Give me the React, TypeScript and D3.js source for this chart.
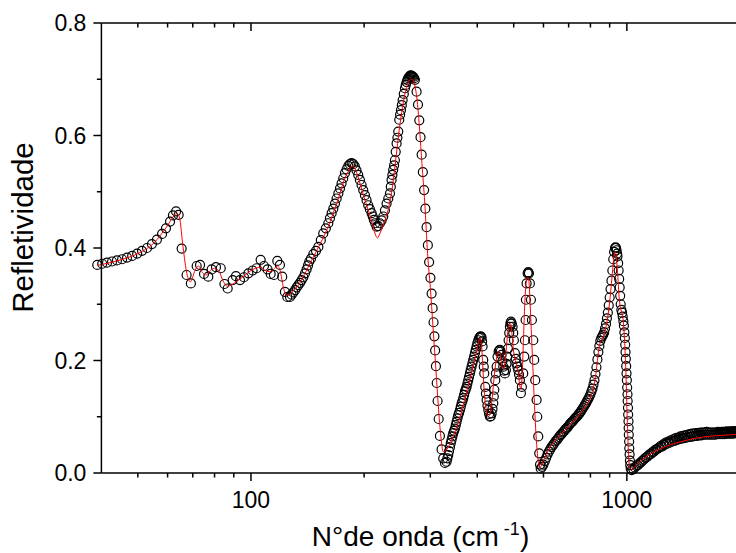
import React from 'react';
import * as d3 from 'd3';

const W = 736;
const H = 553;
const plot = { left: 101.4, right: 740, top: 23, bottom: 473 };

const xDomain: [number, number] = [40, 2000];
const yDomain: [number, number] = [0, 0.8];
const yMajorTicks = [0, 0.2, 0.4, 0.6, 0.8];
const yMinorTicks = [0.1, 0.3, 0.5, 0.7];
const xMajorTicks = [100, 1000];
const xMinorTicks = [50, 60, 70, 80, 90, 200, 300, 400, 500, 600, 700, 800, 900, 2000];

const xLabel = 'N°de onda (cm';
const xLabelSup = ' -1';
const yLabel = 'Refletividade';

// measured reflectivity (open circles): [wavenumber cm-1, reflectivity]
const measuredFar: [number, number][] = [
  [39.0, 0.370], [40.2, 0.372], [41.4, 0.374], [42.7, 0.376], [44.0, 0.378], [45.4, 0.380],
  [46.8, 0.383], [48.3, 0.386], [49.8, 0.390], [51.3, 0.395], [52.9, 0.400], [54.5, 0.407],
  [56.2, 0.415], [58.0, 0.425], [59.4, 0.435], [60.9, 0.447], [62.0, 0.458], [63.2, 0.465],
  [64.2, 0.459], [65.4, 0.399], [67.4, 0.352], [69.2, 0.337], [71.7, 0.368], [73.2, 0.370],
  [75.0, 0.354], [77.0, 0.349], [78.6, 0.362], [80.7, 0.366], [83.1, 0.364], [85.0, 0.336],
  [86.7, 0.328], [89.4, 0.343], [91.2, 0.350], [93.5, 0.343], [95.8, 0.348], [98.4, 0.355],
  [101.0, 0.360], [103.5, 0.364], [106.1, 0.379], [108.3, 0.368], [110.7, 0.362], [112.8, 0.354],
  [115.1, 0.352], [117.5, 0.377], [119.4, 0.370], [121.1, 0.349], [123.1, 0.322], [124.9, 0.313],
  [127.0, 0.313], [128.3, 0.317], [129.6, 0.321], [131.0, 0.325], [132.3, 0.330], [133.6, 0.334],
  [135.0, 0.338], [136.4, 0.343], [137.8, 0.348], [139.2, 0.355], [140.6, 0.362], [141.8, 0.369],
  [142.9, 0.376], [144.4, 0.381], [146.5, 0.389], [148.9, 0.395], [151.1, 0.402], [153.4, 0.414],
  [155.7, 0.426], [158.2, 0.435], [160.6, 0.444], [162.2, 0.453],
];

const measuredMid: [number, number][] = [
  [163.9, 0.462], [165.6, 0.470], [167.3, 0.479], [169.0, 0.488], [170.8, 0.497], [172.5, 0.506],
  [174.2, 0.515], [176.0, 0.524], [177.8, 0.533], [179.6, 0.540], [181.5, 0.546], [183.3, 0.549],
  [185.2, 0.551], [187.1, 0.549], [189.0, 0.545], [190.9, 0.538], [192.9, 0.530], [194.9, 0.521],
  [196.9, 0.512], [198.9, 0.503], [201.0, 0.494], [203.0, 0.485], [205.1, 0.476], [207.2, 0.469],
  [209.4, 0.462], [210.9, 0.456], [212.4, 0.450], [214.1, 0.444], [215.9, 0.438], [218.0, 0.439],
  [220.3, 0.444], [222.6, 0.449], [224.9, 0.456], [227.2, 0.467], [229.5, 0.479], [231.9, 0.488],
  [234.3, 0.497], [235.5, 0.509], [236.6, 0.521], [237.8, 0.530], [239.0, 0.539], [240.3, 0.547],
  [241.5, 0.556], [242.7, 0.571], [244.0, 0.586], [245.2, 0.596], [246.5, 0.607], [248.0, 0.628],
  [249.3, 0.637], [250.6, 0.645], [251.9, 0.654], [253.2, 0.663], [255.0, 0.674], [256.8, 0.684],
  [258.1, 0.690], [259.5, 0.695], [260.8, 0.699], [262.0, 0.702], [263.4, 0.704], [264.8, 0.706],
  [266.2, 0.707], [267.5, 0.706], [268.9, 0.705], [270.3, 0.704], [271.7, 0.702], [273.0, 0.699],
  [275.8, 0.678], [278.2, 0.655], [280.4, 0.627], [282.5, 0.597], [284.5, 0.566], [286.6, 0.535],
  [288.8, 0.503], [291.0, 0.470], [293.2, 0.437], [295.5, 0.405], [297.8, 0.375], [300.2, 0.347],
  [302.4, 0.319], [304.3, 0.293], [306.0, 0.268], [307.6, 0.243], [309.0, 0.218], [310.5, 0.190],
  [312.0, 0.160], [313.7, 0.128], [315.8, 0.096], [318.2, 0.066], [321.4, 0.042], [324.7, 0.026],
  [328.1, 0.018], [331.4, 0.020],
];

const measuredPhonon: [number, number][] = [
  [333.0, 0.026], [334.8, 0.032], [336.5, 0.039], [338.3, 0.046], [340.0, 0.053], [341.7, 0.059],
  [343.5, 0.065], [345.2, 0.071], [347.0, 0.075], [348.8, 0.079], [350.6, 0.085], [352.4, 0.091],
  [354.2, 0.097], [356.0, 0.103], [357.8, 0.107], [359.7, 0.112], [361.5, 0.118], [363.4, 0.124],
  [365.2, 0.128], [367.1, 0.133], [369.0, 0.139], [370.9, 0.145], [372.8, 0.149], [374.7, 0.153],
  [376.5, 0.159], [378.4, 0.165], [380.3, 0.171], [382.3, 0.177], [384.2, 0.183], [386.2, 0.189],
  [388.2, 0.195], [390.2, 0.201], [392.2, 0.207], [394.2, 0.213], [396.2, 0.219], [398.3, 0.225],
  [400.3, 0.231], [402.4, 0.236], [404.5, 0.240], [406.5, 0.242], [408.6, 0.243], [410.7, 0.241],
  [412.0, 0.234], [413.2, 0.225], [414.9, 0.201], [416.2, 0.189], [417.5, 0.177], [420.1, 0.153],
  [421.8, 0.141], [423.5, 0.130], [425.7, 0.120], [427.9, 0.112], [430.1, 0.105], [432.3, 0.100],
  [434.5, 0.101], [436.8, 0.106], [439.0, 0.114], [441.2, 0.124], [442.6, 0.136], [444.0, 0.148],
  [446.7, 0.165], [448.5, 0.177], [450.4, 0.189], [452.9, 0.207], [455.8, 0.216], [457.6, 0.218],
  [459.5, 0.219], [461.8, 0.216], [464.2, 0.210], [466.6, 0.199], [469.0, 0.189], [471.4, 0.182],
  [473.8, 0.177], [476.7, 0.183], [478.6, 0.194], [480.6, 0.207], [482.6, 0.221], [484.6, 0.236],
  [486.5, 0.249], [488.5, 0.260], [490.0, 0.266], [491.6, 0.269], [494.1, 0.266], [496.6, 0.260],
  [498.6, 0.249], [500.6, 0.236], [503.7, 0.213], [506.2, 0.203], [508.8, 0.195], [511.4, 0.189],
  [514.0, 0.183], [516.6, 0.175], [519.3, 0.165], [522.5, 0.142], [525.7, 0.153], [530.1, 0.177],
  [533.4, 0.207], [535.6, 0.236], [537.8, 0.272], [538.9, 0.308], [541.1, 0.337], [544.5, 0.355],
  [546.7, 0.357], [548.9, 0.355], [552.1, 0.337], [555.6, 0.308], [559.0, 0.272], [563.6, 0.236],
  [567.0, 0.201], [570.5, 0.165], [575.3, 0.130], [577.6, 0.100], [581.2, 0.065], [584.7, 0.035],
  [587.5, 0.015],
];

const measuredMidIR: [number, number][] = [
  [590, 0.008], [595, 0.011], [600, 0.015], [605, 0.021], [610, 0.027], [615, 0.033], [620, 0.038],
  [625, 0.042], [630, 0.046], [635, 0.049], [640, 0.052], [645, 0.056], [650, 0.058], [655, 0.061],
  [660, 0.064], [665, 0.067], [670, 0.069], [675, 0.072], [680, 0.074], [685, 0.077], [690, 0.079],
  [695, 0.081], [700, 0.084], [705, 0.087], [710, 0.089], [715, 0.091], [720, 0.093], [725, 0.096],
  [730, 0.098], [735, 0.100], [740, 0.102], [745, 0.105], [750, 0.107], [755, 0.110], [760, 0.113],
  [765, 0.116], [770, 0.119], [775, 0.122], [780, 0.125], [785, 0.129], [790, 0.132], [795, 0.136],
  [800, 0.140], [805, 0.145], [810, 0.150], [815, 0.157], [820, 0.165], [825, 0.176], [830, 0.188],
  [835, 0.202], [840, 0.215], [845, 0.226], [850, 0.235], [855, 0.240], [860, 0.243], [865, 0.246],
  [870, 0.250], [875, 0.257], [880, 0.265], [885, 0.275], [890, 0.285], [895, 0.298], [900, 0.312],
  [905, 0.327], [910, 0.342], [915, 0.360], [920, 0.380], [925, 0.393], [930, 0.400], [933, 0.401],
  [936, 0.400], [939, 0.396], [942, 0.390], [944, 0.385], [948, 0.373], [951, 0.360], [954, 0.345],
  [957, 0.330], [960, 0.315], [963, 0.300], [967, 0.290], [971, 0.285], [975, 0.278], [979, 0.270],
  [982, 0.262], [985, 0.250], [988, 0.240], [990, 0.228], [992, 0.215], [994, 0.203], [996, 0.190],
  [998, 0.177], [1000, 0.165], [1002, 0.152], [1004, 0.140], [1005, 0.128], [1007, 0.116],
  [1008, 0.104], [1010, 0.092], [1011, 0.080], [1012, 0.068], [1014, 0.056], [1015, 0.044],
  [1017, 0.033], [1019, 0.022], [1021, 0.014], [1024, 0.008],
];

const measuredHigh: [number, number][] = [
  [1030, 0.005], [1040, 0.007], [1050, 0.010], [1060, 0.012], [1070, 0.014], [1080, 0.017],
  [1090, 0.019], [1100, 0.022], [1110, 0.024], [1120, 0.027], [1130, 0.028], [1140, 0.031],
  [1150, 0.033], [1160, 0.034], [1170, 0.037], [1180, 0.038], [1190, 0.041], [1200, 0.042],
  [1210, 0.044], [1220, 0.045], [1230, 0.048], [1240, 0.047], [1250, 0.051], [1260, 0.050],
  [1270, 0.054], [1280, 0.052], [1290, 0.056], [1300, 0.054], [1310, 0.058], [1320, 0.056],
  [1330, 0.060], [1340, 0.057], [1350, 0.062], [1360, 0.059], [1370, 0.063], [1380, 0.060],
  [1390, 0.065], [1400, 0.061], [1410, 0.066], [1420, 0.062], [1430, 0.067], [1440, 0.063],
  [1450, 0.068], [1460, 0.064], [1470, 0.069], [1480, 0.064], [1490, 0.070], [1500, 0.065],
  [1510, 0.070], [1520, 0.066], [1530, 0.071], [1540, 0.066], [1550, 0.071], [1560, 0.067],
  [1570, 0.072], [1580, 0.067], [1590, 0.072], [1600, 0.068], [1610, 0.072], [1620, 0.068],
  [1630, 0.073], [1640, 0.068], [1650, 0.072], [1660, 0.068], [1670, 0.072], [1680, 0.068],
  [1690, 0.072], [1700, 0.068], [1710, 0.072], [1720, 0.068], [1730, 0.072], [1740, 0.069],
  [1750, 0.073], [1760, 0.069], [1770, 0.072], [1780, 0.069], [1790, 0.073], [1800, 0.069],
  [1810, 0.073], [1820, 0.069], [1830, 0.073], [1840, 0.070], [1850, 0.074], [1860, 0.070],
  [1870, 0.073], [1880, 0.070], [1890, 0.074], [1900, 0.070], [1910, 0.074], [1920, 0.070],
  [1930, 0.074], [1940, 0.071], [1950, 0.074], [1960, 0.071], [1970, 0.075], [1980, 0.071],
  [1990, 0.074], [2000, 0.071],
];

// fitted model (red line)
const fitFar: [number, number][] = [
  [39, 0.369], [45, 0.379], [50, 0.390], [55, 0.408], [60, 0.440], [62.5, 0.458], [63.5, 0.462],
  [64.5, 0.455], [66, 0.400], [67.5, 0.355], [69, 0.340], [71, 0.360], [72.5, 0.368], [74.5, 0.355],
  [76, 0.352], [78, 0.360], [80, 0.364], [82, 0.360], [84.5, 0.340], [86.5, 0.332], [89, 0.335],
  [92, 0.342], [95, 0.348], [100, 0.360], [104, 0.365], [106, 0.366], [109, 0.360], [112, 0.358],
  [115, 0.362], [117.5, 0.368], [119.5, 0.360], [122, 0.330], [124, 0.316], [126, 0.317], [130, 0.325],
  [135, 0.338], [140, 0.358], [145, 0.378], [150, 0.397], [160, 0.436], [170, 0.484], [178, 0.525],
  [183, 0.540], [186, 0.546], [190, 0.538], [195, 0.515], [200, 0.490], [205, 0.468], [210, 0.445],
  [214, 0.425], [217, 0.418], [221, 0.428], [226, 0.445], [232, 0.470], [238, 0.510], [243, 0.560],
  [248, 0.610], [253, 0.650], [258, 0.680], [263, 0.696], [268, 0.700], [273, 0.688], [277, 0.660],
  [281, 0.610], [285, 0.550], [290, 0.480], [295, 0.390], [300, 0.330], [305, 0.260], [310, 0.190],
  [315, 0.120], [320, 0.065], [324.7, 0.038],
];

const fitMid: [number, number][] = [
  [330, 0.040], [340, 0.055], [350, 0.075], [360, 0.100], [370, 0.130], [380, 0.160], [390, 0.190],
  [398, 0.215], [404, 0.235], [407, 0.240], [410, 0.232], [413, 0.200], [416, 0.160], [420, 0.125],
  [424, 0.107], [428, 0.100], [432, 0.104], [437, 0.125], [442, 0.160], [447, 0.190], [452, 0.210],
  [456, 0.216], [460, 0.212], [464, 0.195], [468, 0.185], [472, 0.190], [477, 0.215], [482, 0.250],
  [487, 0.265], [491, 0.265], [495, 0.245], [500, 0.215], [505, 0.200], [510, 0.190], [515, 0.175],
  [519, 0.155], [523, 0.150], [527, 0.180], [531, 0.240], [535, 0.300], [540, 0.340], [545, 0.348],
  [549, 0.340], [553, 0.300], [558, 0.240], [563, 0.180], [568, 0.120], [573, 0.070], [578, 0.035],
  [583, 0.015], [588, 0.010], [593, 0.014], [600, 0.022], [610, 0.033], [620, 0.042], [640, 0.055],
  [660, 0.066], [680, 0.074], [700, 0.083], [730, 0.096], [760, 0.110], [790, 0.127], [810, 0.145],
  [825, 0.170], [835, 0.200], [845, 0.226], [855, 0.236], [865, 0.242], [880, 0.260], [895, 0.290],
  [905, 0.320], [915, 0.355], [922, 0.380], [928, 0.392], [933, 0.392], [940, 0.375], [946, 0.350],
  [952, 0.320], [958, 0.300], [965, 0.290], [972, 0.282], [980, 0.265], [987, 0.230], [993, 0.190],
  [998, 0.140], [1003, 0.090], [1008, 0.050], [1013, 0.020], [1020, 0.008], [1030, 0.006],
  [1040, 0.008], [1060, 0.014], [1100, 0.024], [1150, 0.033], [1200, 0.040], [1300, 0.050],
  [1400, 0.056], [1500, 0.061], [1600, 0.064], [1700, 0.066], [1800, 0.067], [1900, 0.068], [2000, 0.069],
];

const FONT = '"Liberation Sans", Arial, Helvetica, sans-serif';

export default function App() {
  const x = d3.scaleLog().domain(xDomain).range([plot.left, plot.right]);
  const y = d3.scaleLinear().domain(yDomain).range([plot.bottom, plot.top]);
  const measured = [...measuredFar, ...measuredMid, ...measuredPhonon, ...measuredMidIR, ...measuredHigh];
  const fit = [...fitFar, ...fitMid];
  const line = d3
    .line<[number, number]>()
    .x((d) => x(d[0]))
    .y((d) => y(d[1]))
    .curve(d3.curveMonotoneX);
  const fmt = d3.format('.1f');

  return (
    <svg
      width={W}
      height={H}
      viewBox={`0 0 ${W} ${H}`}
      style={{ position: 'absolute', left: 0, top: 0, background: '#fff' }}
      fontFamily={FONT}
    >
      <rect x={0} y={0} width={W} height={H} fill="#fff" />
      <g fill="none" stroke="#000" strokeWidth={1.2}>
        {measured.map((d, i) => (
          <circle key={i} cx={x(d[0])} cy={y(d[1])} r={4.5} />
        ))}
      </g>
      <path d={line(fit) || ''} fill="none" stroke="#ff0000" strokeWidth={1} />

      <g stroke="#000" strokeWidth={1.5} fill="none">
        <line x1={plot.left} x2={plot.left} y1={plot.top} y2={plot.bottom} />
        <line x1={plot.left} x2={plot.right} y1={plot.bottom} y2={plot.bottom} />
        <line x1={plot.left} x2={plot.right} y1={plot.top} y2={plot.top} />
        <line x1={plot.right} x2={plot.right} y1={plot.top} y2={plot.bottom} />
        {yMajorTicks.map((t) => (
          <line key={'ym' + t} x1={plot.left - 8} x2={plot.left} y1={y(t)} y2={y(t)} />
        ))}
        {yMinorTicks.map((t) => (
          <line key={'yn' + t} x1={plot.left - 4.5} x2={plot.left} y1={y(t)} y2={y(t)} />
        ))}
        {xMajorTicks.map((t) => (
          <g key={'xm' + t}>
            <line x1={x(t)} x2={x(t)} y1={plot.bottom} y2={plot.bottom + 8} />
            <line x1={x(t)} x2={x(t)} y1={plot.top} y2={plot.top + 8} />
          </g>
        ))}
        {xMinorTicks.map((t) => (
          <g key={'xn' + t}>
            <line x1={x(t)} x2={x(t)} y1={plot.bottom} y2={plot.bottom + 4.5} />
            <line x1={x(t)} x2={x(t)} y1={plot.top} y2={plot.top + 4.5} />
          </g>
        ))}
      </g>

      <g fontSize={23} fill="#000">
        {yMajorTicks.map((t) => (
          <text key={'yl' + t} x={plot.left - 15} y={y(t)} dy="0.35em" textAnchor="end">
            {fmt(t)}
          </text>
        ))}
        {xMajorTicks.map((t) => (
          <text key={'xl' + t} x={x(t)} y={plot.bottom + 35} textAnchor="middle">
            {t}
          </text>
        ))}
      </g>

      <text transform={`translate(33, 227.5) rotate(-90)`} textAnchor="middle" fontSize={29.5} fill="#000">
        {yLabel}
      </text>
      <text x={420.5} y={546} textAnchor="middle" fontSize={28} fill="#000" style={{ whiteSpace: 'pre' }}>
        {xLabel}
        <tspan fontSize={18} dy={-11}>{xLabelSup}</tspan>
        <tspan dy={11}>)</tspan>
      </text>
    </svg>
  );
}
